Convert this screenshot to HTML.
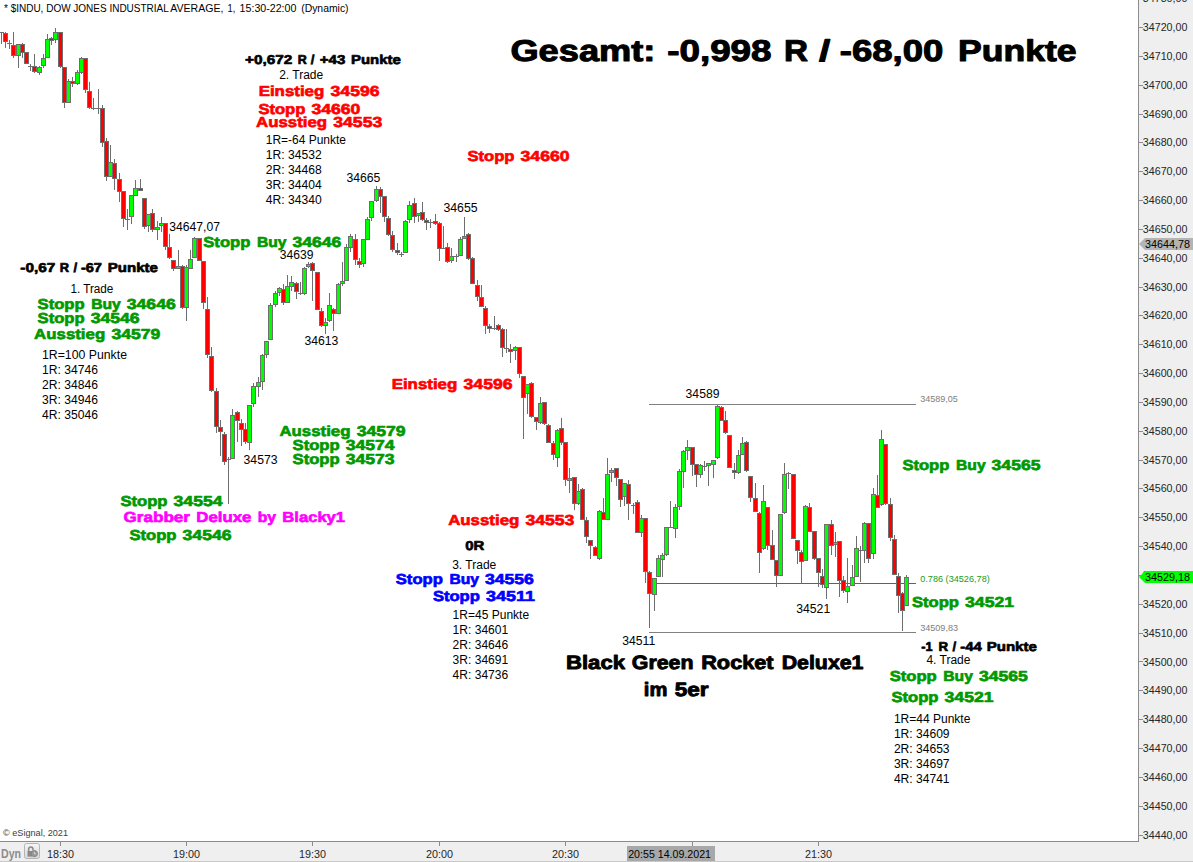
<!DOCTYPE html>
<html><head><meta charset="utf-8"><title>chart</title>
<style>html,body{margin:0;padding:0;background:#fff;overflow:hidden}svg{display:block}text{font-family:"Liberation Sans",sans-serif}.b{text-rendering:geometricPrecision}.r{font-size:12px;fill:#000}.b{font-weight:bold}.ax{font-size:11px;fill:#262626}</style></head><body>
<svg width="1193" height="862" viewBox="0 0 1193 862">
<rect x="0" y="0" width="1193" height="862" fill="#fff"/>
<rect x="1138" y="0" width="55" height="862" fill="#efefef"/>
<rect x="0" y="841" width="1193" height="21" fill="#efefef"/>
<rect x="1138" y="0" width="1" height="841" fill="#8c8c8c"/>
<rect x="0" y="841" width="1139" height="1" fill="#8c8c8c"/>
<rect x="0" y="861" width="1193" height="1" fill="#c8c8c8"/>
<g shape-rendering="crispEdges">
<rect x="649" y="404" width="267" height="1" fill="#808080"/>
<rect x="657" y="583" width="259" height="1" fill="#109a10"/>
<rect x="649" y="632" width="267" height="1" fill="#808080"/>
<rect x="1" y="32" width="1" height="12" fill="#6e6e6e"/>
<rect x="-1" y="32" width="5" height="1" fill="#6e6e6e"/>
<rect x="5" y="32" width="1" height="16" fill="#6e6e6e"/>
<rect x="3" y="33" width="5" height="9" fill="#6e6e6e"/>
<rect x="4" y="34" width="3" height="7" fill="#ff0000"/>
<rect x="9" y="40" width="1" height="9" fill="#6e6e6e"/>
<rect x="7" y="43" width="5" height="1" fill="#6e6e6e"/>
<rect x="13" y="32" width="1" height="26" fill="#6e6e6e"/>
<rect x="11" y="45" width="5" height="11" fill="#6e6e6e"/>
<rect x="12" y="46" width="3" height="9" fill="#ff0000"/>
<rect x="18" y="44" width="1" height="24" fill="#6e6e6e"/>
<rect x="16" y="44" width="5" height="12" fill="#6e6e6e"/>
<rect x="17" y="45" width="3" height="10" fill="#00ff00"/>
<rect x="22" y="43" width="1" height="15" fill="#6e6e6e"/>
<rect x="20" y="44" width="5" height="9" fill="#6e6e6e"/>
<rect x="21" y="45" width="3" height="7" fill="#ff0000"/>
<rect x="26" y="52" width="1" height="12" fill="#6e6e6e"/>
<rect x="24" y="52" width="5" height="12" fill="#6e6e6e"/>
<rect x="25" y="53" width="3" height="10" fill="#ff0000"/>
<rect x="30" y="64" width="1" height="7" fill="#6e6e6e"/>
<rect x="28" y="66" width="5" height="1" fill="#6e6e6e"/>
<rect x="34" y="54" width="1" height="19" fill="#6e6e6e"/>
<rect x="32" y="66" width="5" height="6" fill="#6e6e6e"/>
<rect x="33" y="67" width="3" height="4" fill="#ff0000"/>
<rect x="39" y="66" width="1" height="9" fill="#6e6e6e"/>
<rect x="37" y="67" width="5" height="6" fill="#6e6e6e"/>
<rect x="38" y="68" width="3" height="4" fill="#00ff00"/>
<rect x="43" y="54" width="1" height="14" fill="#6e6e6e"/>
<rect x="41" y="58" width="5" height="8" fill="#6e6e6e"/>
<rect x="42" y="59" width="3" height="6" fill="#00ff00"/>
<rect x="47" y="34" width="1" height="24" fill="#6e6e6e"/>
<rect x="45" y="39" width="5" height="19" fill="#6e6e6e"/>
<rect x="46" y="40" width="3" height="17" fill="#00ff00"/>
<rect x="51" y="37" width="1" height="8" fill="#6e6e6e"/>
<rect x="49" y="38" width="5" height="3" fill="#6e6e6e"/>
<rect x="50" y="39" width="3" height="1" fill="#ff0000"/>
<rect x="55" y="28" width="1" height="15" fill="#6e6e6e"/>
<rect x="53" y="32" width="5" height="8" fill="#6e6e6e"/>
<rect x="54" y="33" width="3" height="6" fill="#00ff00"/>
<rect x="60" y="32" width="1" height="36" fill="#6e6e6e"/>
<rect x="58" y="32" width="5" height="35" fill="#6e6e6e"/>
<rect x="59" y="33" width="3" height="33" fill="#ff0000"/>
<rect x="64" y="67" width="1" height="41" fill="#6e6e6e"/>
<rect x="62" y="67" width="5" height="36" fill="#6e6e6e"/>
<rect x="63" y="68" width="3" height="34" fill="#ff0000"/>
<rect x="68" y="79" width="1" height="24" fill="#6e6e6e"/>
<rect x="66" y="81" width="5" height="22" fill="#6e6e6e"/>
<rect x="67" y="82" width="3" height="20" fill="#00ff00"/>
<rect x="72" y="77" width="1" height="10" fill="#6e6e6e"/>
<rect x="70" y="81" width="5" height="3" fill="#6e6e6e"/>
<rect x="71" y="82" width="3" height="1" fill="#ff0000"/>
<rect x="77" y="70" width="1" height="15" fill="#6e6e6e"/>
<rect x="75" y="72" width="5" height="12" fill="#6e6e6e"/>
<rect x="76" y="73" width="3" height="10" fill="#00ff00"/>
<rect x="81" y="57" width="1" height="17" fill="#6e6e6e"/>
<rect x="79" y="58" width="5" height="15" fill="#6e6e6e"/>
<rect x="80" y="59" width="3" height="13" fill="#00ff00"/>
<rect x="85" y="58" width="1" height="35" fill="#6e6e6e"/>
<rect x="83" y="58" width="5" height="32" fill="#6e6e6e"/>
<rect x="84" y="59" width="3" height="30" fill="#ff0000"/>
<rect x="89" y="82" width="1" height="27" fill="#6e6e6e"/>
<rect x="87" y="91" width="5" height="17" fill="#6e6e6e"/>
<rect x="88" y="92" width="3" height="15" fill="#ff0000"/>
<rect x="93" y="98" width="1" height="12" fill="#6e6e6e"/>
<rect x="91" y="108" width="5" height="1" fill="#6e6e6e"/>
<rect x="98" y="89" width="1" height="25" fill="#6e6e6e"/>
<rect x="96" y="108" width="5" height="1" fill="#6e6e6e"/>
<rect x="102" y="105" width="1" height="42" fill="#6e6e6e"/>
<rect x="100" y="108" width="5" height="35" fill="#6e6e6e"/>
<rect x="101" y="109" width="3" height="33" fill="#ff0000"/>
<rect x="106" y="138" width="1" height="43" fill="#6e6e6e"/>
<rect x="104" y="141" width="5" height="36" fill="#6e6e6e"/>
<rect x="105" y="142" width="3" height="34" fill="#ff0000"/>
<rect x="110" y="145" width="1" height="32" fill="#6e6e6e"/>
<rect x="108" y="162" width="5" height="15" fill="#6e6e6e"/>
<rect x="109" y="163" width="3" height="13" fill="#00ff00"/>
<rect x="114" y="159" width="1" height="31" fill="#6e6e6e"/>
<rect x="112" y="163" width="5" height="16" fill="#6e6e6e"/>
<rect x="113" y="164" width="3" height="14" fill="#ff0000"/>
<rect x="119" y="173" width="1" height="29" fill="#6e6e6e"/>
<rect x="117" y="179" width="5" height="13" fill="#6e6e6e"/>
<rect x="118" y="180" width="3" height="11" fill="#ff0000"/>
<rect x="123" y="191" width="1" height="36" fill="#6e6e6e"/>
<rect x="121" y="191" width="5" height="28" fill="#6e6e6e"/>
<rect x="122" y="192" width="3" height="26" fill="#ff0000"/>
<rect x="127" y="209" width="1" height="21" fill="#6e6e6e"/>
<rect x="125" y="219" width="5" height="1" fill="#6e6e6e"/>
<rect x="131" y="195" width="1" height="29" fill="#6e6e6e"/>
<rect x="129" y="195" width="5" height="22" fill="#6e6e6e"/>
<rect x="130" y="196" width="3" height="20" fill="#00ff00"/>
<rect x="135" y="180" width="1" height="16" fill="#6e6e6e"/>
<rect x="133" y="188" width="5" height="8" fill="#6e6e6e"/>
<rect x="134" y="189" width="3" height="6" fill="#00ff00"/>
<rect x="140" y="179" width="1" height="12" fill="#6e6e6e"/>
<rect x="138" y="188" width="5" height="3" fill="#6e6e6e"/>
<rect x="139" y="189" width="3" height="1" fill="#ff0000"/>
<rect x="144" y="198" width="1" height="31" fill="#6e6e6e"/>
<rect x="142" y="198" width="5" height="29" fill="#6e6e6e"/>
<rect x="143" y="199" width="3" height="27" fill="#ff0000"/>
<rect x="148" y="214" width="1" height="18" fill="#6e6e6e"/>
<rect x="146" y="214" width="5" height="12" fill="#6e6e6e"/>
<rect x="147" y="215" width="3" height="10" fill="#00ff00"/>
<rect x="152" y="209" width="1" height="23" fill="#6e6e6e"/>
<rect x="150" y="213" width="5" height="17" fill="#6e6e6e"/>
<rect x="151" y="214" width="3" height="15" fill="#ff0000"/>
<rect x="157" y="221" width="1" height="19" fill="#6e6e6e"/>
<rect x="155" y="227" width="5" height="3" fill="#6e6e6e"/>
<rect x="156" y="228" width="3" height="1" fill="#00ff00"/>
<rect x="161" y="217" width="1" height="15" fill="#6e6e6e"/>
<rect x="159" y="223" width="5" height="3" fill="#6e6e6e"/>
<rect x="160" y="224" width="3" height="1" fill="#00ff00"/>
<rect x="165" y="223" width="1" height="27" fill="#6e6e6e"/>
<rect x="163" y="223" width="5" height="24" fill="#6e6e6e"/>
<rect x="164" y="224" width="3" height="22" fill="#ff0000"/>
<rect x="169" y="234" width="1" height="25" fill="#6e6e6e"/>
<rect x="167" y="247" width="5" height="11" fill="#6e6e6e"/>
<rect x="168" y="248" width="3" height="9" fill="#ff0000"/>
<rect x="173" y="260" width="1" height="11" fill="#6e6e6e"/>
<rect x="171" y="260" width="5" height="9" fill="#6e6e6e"/>
<rect x="172" y="261" width="3" height="7" fill="#ff0000"/>
<rect x="178" y="250" width="1" height="18" fill="#6e6e6e"/>
<rect x="176" y="266" width="5" height="3" fill="#6e6e6e"/>
<rect x="177" y="267" width="3" height="1" fill="#00ff00"/>
<rect x="182" y="265" width="1" height="44" fill="#6e6e6e"/>
<rect x="180" y="266" width="5" height="42" fill="#6e6e6e"/>
<rect x="181" y="267" width="3" height="40" fill="#ff0000"/>
<rect x="186" y="265" width="1" height="56" fill="#6e6e6e"/>
<rect x="184" y="267" width="5" height="41" fill="#6e6e6e"/>
<rect x="185" y="268" width="3" height="39" fill="#00ff00"/>
<rect x="190" y="250" width="1" height="19" fill="#6e6e6e"/>
<rect x="188" y="259" width="5" height="10" fill="#6e6e6e"/>
<rect x="189" y="260" width="3" height="8" fill="#00ff00"/>
<rect x="194" y="237" width="1" height="21" fill="#6e6e6e"/>
<rect x="192" y="238" width="5" height="20" fill="#6e6e6e"/>
<rect x="193" y="239" width="3" height="18" fill="#00ff00"/>
<rect x="199" y="238" width="1" height="23" fill="#6e6e6e"/>
<rect x="197" y="238" width="5" height="23" fill="#6e6e6e"/>
<rect x="198" y="239" width="3" height="21" fill="#ff0000"/>
<rect x="203" y="261" width="1" height="48" fill="#6e6e6e"/>
<rect x="201" y="261" width="5" height="42" fill="#6e6e6e"/>
<rect x="202" y="262" width="3" height="40" fill="#ff0000"/>
<rect x="207" y="297" width="1" height="61" fill="#6e6e6e"/>
<rect x="205" y="309" width="5" height="46" fill="#6e6e6e"/>
<rect x="206" y="310" width="3" height="44" fill="#ff0000"/>
<rect x="211" y="347" width="1" height="45" fill="#6e6e6e"/>
<rect x="209" y="356" width="5" height="35" fill="#6e6e6e"/>
<rect x="210" y="357" width="3" height="33" fill="#ff0000"/>
<rect x="216" y="388" width="1" height="45" fill="#6e6e6e"/>
<rect x="214" y="391" width="5" height="36" fill="#6e6e6e"/>
<rect x="215" y="392" width="3" height="34" fill="#ff0000"/>
<rect x="220" y="420" width="1" height="36" fill="#6e6e6e"/>
<rect x="218" y="427" width="5" height="5" fill="#6e6e6e"/>
<rect x="219" y="428" width="3" height="3" fill="#ff0000"/>
<rect x="224" y="432" width="1" height="33" fill="#6e6e6e"/>
<rect x="222" y="434" width="5" height="28" fill="#6e6e6e"/>
<rect x="223" y="435" width="3" height="26" fill="#ff0000"/>
<rect x="228" y="457" width="1" height="47" fill="#6e6e6e"/>
<rect x="226" y="459" width="5" height="1" fill="#6e6e6e"/>
<rect x="232" y="409" width="1" height="50" fill="#6e6e6e"/>
<rect x="230" y="415" width="5" height="44" fill="#6e6e6e"/>
<rect x="231" y="416" width="3" height="42" fill="#00ff00"/>
<rect x="237" y="411" width="1" height="31" fill="#6e6e6e"/>
<rect x="235" y="412" width="5" height="9" fill="#6e6e6e"/>
<rect x="236" y="413" width="3" height="7" fill="#ff0000"/>
<rect x="241" y="419" width="1" height="27" fill="#6e6e6e"/>
<rect x="239" y="423" width="5" height="7" fill="#6e6e6e"/>
<rect x="240" y="424" width="3" height="5" fill="#ff0000"/>
<rect x="245" y="423" width="1" height="21" fill="#6e6e6e"/>
<rect x="243" y="429" width="5" height="13" fill="#6e6e6e"/>
<rect x="244" y="430" width="3" height="11" fill="#ff0000"/>
<rect x="249" y="405" width="1" height="45" fill="#6e6e6e"/>
<rect x="247" y="405" width="5" height="38" fill="#6e6e6e"/>
<rect x="248" y="406" width="3" height="36" fill="#00ff00"/>
<rect x="253" y="383" width="1" height="24" fill="#6e6e6e"/>
<rect x="251" y="386" width="5" height="18" fill="#6e6e6e"/>
<rect x="252" y="387" width="3" height="16" fill="#00ff00"/>
<rect x="258" y="377" width="1" height="20" fill="#6e6e6e"/>
<rect x="256" y="382" width="5" height="5" fill="#6e6e6e"/>
<rect x="257" y="383" width="3" height="3" fill="#00ff00"/>
<rect x="262" y="354" width="1" height="36" fill="#6e6e6e"/>
<rect x="260" y="355" width="5" height="27" fill="#6e6e6e"/>
<rect x="261" y="356" width="3" height="25" fill="#00ff00"/>
<rect x="266" y="341" width="1" height="17" fill="#6e6e6e"/>
<rect x="264" y="341" width="5" height="14" fill="#6e6e6e"/>
<rect x="265" y="342" width="3" height="12" fill="#00ff00"/>
<rect x="270" y="303" width="1" height="37" fill="#6e6e6e"/>
<rect x="268" y="305" width="5" height="35" fill="#6e6e6e"/>
<rect x="269" y="306" width="3" height="33" fill="#00ff00"/>
<rect x="275" y="291" width="1" height="16" fill="#6e6e6e"/>
<rect x="273" y="293" width="5" height="12" fill="#6e6e6e"/>
<rect x="274" y="294" width="3" height="10" fill="#00ff00"/>
<rect x="279" y="287" width="1" height="9" fill="#6e6e6e"/>
<rect x="277" y="288" width="5" height="5" fill="#6e6e6e"/>
<rect x="278" y="289" width="3" height="3" fill="#00ff00"/>
<rect x="283" y="284" width="1" height="21" fill="#6e6e6e"/>
<rect x="281" y="289" width="5" height="14" fill="#6e6e6e"/>
<rect x="282" y="290" width="3" height="12" fill="#ff0000"/>
<rect x="287" y="275" width="1" height="28" fill="#6e6e6e"/>
<rect x="285" y="286" width="5" height="17" fill="#6e6e6e"/>
<rect x="286" y="287" width="3" height="15" fill="#00ff00"/>
<rect x="291" y="276" width="1" height="15" fill="#6e6e6e"/>
<rect x="289" y="282" width="5" height="5" fill="#6e6e6e"/>
<rect x="290" y="283" width="3" height="3" fill="#00ff00"/>
<rect x="296" y="282" width="1" height="17" fill="#6e6e6e"/>
<rect x="294" y="283" width="5" height="9" fill="#6e6e6e"/>
<rect x="295" y="284" width="3" height="7" fill="#ff0000"/>
<rect x="300" y="282" width="1" height="13" fill="#6e6e6e"/>
<rect x="298" y="293" width="5" height="1" fill="#6e6e6e"/>
<rect x="304" y="267" width="1" height="28" fill="#6e6e6e"/>
<rect x="302" y="268" width="5" height="26" fill="#6e6e6e"/>
<rect x="303" y="269" width="3" height="24" fill="#00ff00"/>
<rect x="308" y="262" width="1" height="6" fill="#6e6e6e"/>
<rect x="306" y="264" width="5" height="3" fill="#6e6e6e"/>
<rect x="307" y="265" width="3" height="1" fill="#00ff00"/>
<rect x="312" y="262" width="1" height="39" fill="#6e6e6e"/>
<rect x="310" y="263" width="5" height="8" fill="#6e6e6e"/>
<rect x="311" y="264" width="3" height="6" fill="#ff0000"/>
<rect x="317" y="272" width="1" height="38" fill="#6e6e6e"/>
<rect x="315" y="272" width="5" height="38" fill="#6e6e6e"/>
<rect x="316" y="273" width="3" height="36" fill="#ff0000"/>
<rect x="321" y="308" width="1" height="19" fill="#6e6e6e"/>
<rect x="319" y="311" width="5" height="15" fill="#6e6e6e"/>
<rect x="320" y="312" width="3" height="13" fill="#ff0000"/>
<rect x="325" y="318" width="1" height="16" fill="#6e6e6e"/>
<rect x="323" y="322" width="5" height="4" fill="#6e6e6e"/>
<rect x="324" y="323" width="3" height="2" fill="#00ff00"/>
<rect x="329" y="293" width="1" height="29" fill="#6e6e6e"/>
<rect x="327" y="305" width="5" height="16" fill="#6e6e6e"/>
<rect x="328" y="306" width="3" height="14" fill="#00ff00"/>
<rect x="333" y="308" width="1" height="23" fill="#6e6e6e"/>
<rect x="331" y="309" width="5" height="5" fill="#6e6e6e"/>
<rect x="332" y="310" width="3" height="3" fill="#ff0000"/>
<rect x="338" y="283" width="1" height="31" fill="#6e6e6e"/>
<rect x="336" y="284" width="5" height="30" fill="#6e6e6e"/>
<rect x="337" y="285" width="3" height="28" fill="#00ff00"/>
<rect x="342" y="262" width="1" height="24" fill="#6e6e6e"/>
<rect x="340" y="281" width="5" height="3" fill="#6e6e6e"/>
<rect x="341" y="282" width="3" height="1" fill="#00ff00"/>
<rect x="346" y="244" width="1" height="37" fill="#6e6e6e"/>
<rect x="344" y="247" width="5" height="34" fill="#6e6e6e"/>
<rect x="345" y="248" width="3" height="32" fill="#00ff00"/>
<rect x="350" y="234" width="1" height="18" fill="#6e6e6e"/>
<rect x="348" y="236" width="5" height="12" fill="#6e6e6e"/>
<rect x="349" y="237" width="3" height="10" fill="#00ff00"/>
<rect x="355" y="234" width="1" height="31" fill="#6e6e6e"/>
<rect x="353" y="239" width="5" height="21" fill="#6e6e6e"/>
<rect x="354" y="240" width="3" height="19" fill="#ff0000"/>
<rect x="359" y="258" width="1" height="10" fill="#6e6e6e"/>
<rect x="357" y="261" width="5" height="4" fill="#6e6e6e"/>
<rect x="358" y="262" width="3" height="2" fill="#ff0000"/>
<rect x="363" y="239" width="1" height="28" fill="#6e6e6e"/>
<rect x="361" y="239" width="5" height="25" fill="#6e6e6e"/>
<rect x="362" y="240" width="3" height="23" fill="#00ff00"/>
<rect x="367" y="217" width="1" height="23" fill="#6e6e6e"/>
<rect x="365" y="219" width="5" height="21" fill="#6e6e6e"/>
<rect x="366" y="220" width="3" height="19" fill="#00ff00"/>
<rect x="371" y="201" width="1" height="20" fill="#6e6e6e"/>
<rect x="369" y="201" width="5" height="17" fill="#6e6e6e"/>
<rect x="370" y="202" width="3" height="15" fill="#00ff00"/>
<rect x="376" y="186" width="1" height="16" fill="#6e6e6e"/>
<rect x="374" y="189" width="5" height="12" fill="#6e6e6e"/>
<rect x="375" y="190" width="3" height="10" fill="#00ff00"/>
<rect x="380" y="187" width="1" height="26" fill="#6e6e6e"/>
<rect x="378" y="189" width="5" height="8" fill="#6e6e6e"/>
<rect x="379" y="190" width="3" height="6" fill="#ff0000"/>
<rect x="384" y="196" width="1" height="26" fill="#6e6e6e"/>
<rect x="382" y="196" width="5" height="21" fill="#6e6e6e"/>
<rect x="383" y="197" width="3" height="19" fill="#ff0000"/>
<rect x="388" y="216" width="1" height="20" fill="#6e6e6e"/>
<rect x="386" y="218" width="5" height="17" fill="#6e6e6e"/>
<rect x="387" y="219" width="3" height="15" fill="#ff0000"/>
<rect x="392" y="231" width="1" height="21" fill="#6e6e6e"/>
<rect x="390" y="235" width="5" height="15" fill="#6e6e6e"/>
<rect x="391" y="236" width="3" height="13" fill="#ff0000"/>
<rect x="397" y="243" width="1" height="12" fill="#6e6e6e"/>
<rect x="395" y="250" width="5" height="3" fill="#6e6e6e"/>
<rect x="396" y="251" width="3" height="1" fill="#ff0000"/>
<rect x="401" y="252" width="1" height="5" fill="#6e6e6e"/>
<rect x="399" y="254" width="5" height="1" fill="#6e6e6e"/>
<rect x="405" y="220" width="1" height="33" fill="#6e6e6e"/>
<rect x="403" y="221" width="5" height="32" fill="#6e6e6e"/>
<rect x="404" y="222" width="3" height="30" fill="#00ff00"/>
<rect x="409" y="201" width="1" height="22" fill="#6e6e6e"/>
<rect x="407" y="205" width="5" height="15" fill="#6e6e6e"/>
<rect x="408" y="206" width="3" height="13" fill="#00ff00"/>
<rect x="414" y="198" width="1" height="25" fill="#6e6e6e"/>
<rect x="412" y="203" width="5" height="14" fill="#6e6e6e"/>
<rect x="413" y="204" width="3" height="12" fill="#ff0000"/>
<rect x="418" y="213" width="1" height="9" fill="#6e6e6e"/>
<rect x="416" y="213" width="5" height="3" fill="#6e6e6e"/>
<rect x="417" y="214" width="3" height="1" fill="#00ff00"/>
<rect x="422" y="202" width="1" height="19" fill="#6e6e6e"/>
<rect x="420" y="212" width="5" height="8" fill="#6e6e6e"/>
<rect x="421" y="213" width="3" height="6" fill="#ff0000"/>
<rect x="426" y="218" width="1" height="12" fill="#6e6e6e"/>
<rect x="424" y="220" width="5" height="3" fill="#6e6e6e"/>
<rect x="425" y="221" width="3" height="1" fill="#ff0000"/>
<rect x="430" y="219" width="1" height="9" fill="#6e6e6e"/>
<rect x="428" y="222" width="5" height="1" fill="#6e6e6e"/>
<rect x="435" y="214" width="1" height="11" fill="#6e6e6e"/>
<rect x="433" y="221" width="5" height="3" fill="#6e6e6e"/>
<rect x="434" y="222" width="3" height="1" fill="#ff0000"/>
<rect x="439" y="222" width="1" height="39" fill="#6e6e6e"/>
<rect x="437" y="223" width="5" height="26" fill="#6e6e6e"/>
<rect x="438" y="224" width="3" height="24" fill="#ff0000"/>
<rect x="443" y="226" width="1" height="23" fill="#6e6e6e"/>
<rect x="441" y="248" width="5" height="1" fill="#6e6e6e"/>
<rect x="447" y="243" width="1" height="20" fill="#6e6e6e"/>
<rect x="445" y="247" width="5" height="15" fill="#6e6e6e"/>
<rect x="446" y="248" width="3" height="13" fill="#ff0000"/>
<rect x="451" y="248" width="1" height="15" fill="#6e6e6e"/>
<rect x="449" y="256" width="5" height="5" fill="#6e6e6e"/>
<rect x="450" y="257" width="3" height="3" fill="#00ff00"/>
<rect x="456" y="254" width="1" height="8" fill="#6e6e6e"/>
<rect x="454" y="256" width="5" height="1" fill="#6e6e6e"/>
<rect x="460" y="237" width="1" height="19" fill="#6e6e6e"/>
<rect x="458" y="239" width="5" height="17" fill="#6e6e6e"/>
<rect x="459" y="240" width="3" height="15" fill="#00ff00"/>
<rect x="464" y="217" width="1" height="22" fill="#6e6e6e"/>
<rect x="462" y="236" width="5" height="3" fill="#6e6e6e"/>
<rect x="463" y="237" width="3" height="1" fill="#00ff00"/>
<rect x="468" y="233" width="1" height="27" fill="#6e6e6e"/>
<rect x="466" y="234" width="5" height="25" fill="#6e6e6e"/>
<rect x="467" y="235" width="3" height="23" fill="#ff0000"/>
<rect x="472" y="257" width="1" height="27" fill="#6e6e6e"/>
<rect x="470" y="258" width="5" height="26" fill="#6e6e6e"/>
<rect x="471" y="259" width="3" height="24" fill="#ff0000"/>
<rect x="477" y="280" width="1" height="21" fill="#6e6e6e"/>
<rect x="475" y="285" width="5" height="12" fill="#6e6e6e"/>
<rect x="476" y="286" width="3" height="10" fill="#ff0000"/>
<rect x="481" y="285" width="1" height="22" fill="#6e6e6e"/>
<rect x="479" y="297" width="5" height="10" fill="#6e6e6e"/>
<rect x="480" y="298" width="3" height="8" fill="#ff0000"/>
<rect x="485" y="306" width="1" height="28" fill="#6e6e6e"/>
<rect x="483" y="308" width="5" height="18" fill="#6e6e6e"/>
<rect x="484" y="309" width="3" height="16" fill="#ff0000"/>
<rect x="489" y="324" width="1" height="9" fill="#6e6e6e"/>
<rect x="487" y="326" width="5" height="3" fill="#6e6e6e"/>
<rect x="488" y="327" width="3" height="1" fill="#ff0000"/>
<rect x="494" y="316" width="1" height="14" fill="#6e6e6e"/>
<rect x="492" y="328" width="5" height="1" fill="#6e6e6e"/>
<rect x="498" y="324" width="1" height="7" fill="#6e6e6e"/>
<rect x="496" y="325" width="5" height="5" fill="#6e6e6e"/>
<rect x="497" y="326" width="3" height="3" fill="#ff0000"/>
<rect x="502" y="328" width="1" height="29" fill="#6e6e6e"/>
<rect x="500" y="329" width="5" height="19" fill="#6e6e6e"/>
<rect x="501" y="330" width="3" height="17" fill="#ff0000"/>
<rect x="506" y="329" width="1" height="24" fill="#6e6e6e"/>
<rect x="504" y="348" width="5" height="1" fill="#6e6e6e"/>
<rect x="510" y="344" width="1" height="19" fill="#6e6e6e"/>
<rect x="508" y="349" width="5" height="3" fill="#6e6e6e"/>
<rect x="509" y="350" width="3" height="1" fill="#ff0000"/>
<rect x="515" y="346" width="1" height="14" fill="#6e6e6e"/>
<rect x="513" y="347" width="5" height="4" fill="#6e6e6e"/>
<rect x="514" y="348" width="3" height="2" fill="#00ff00"/>
<rect x="519" y="347" width="1" height="31" fill="#6e6e6e"/>
<rect x="517" y="347" width="5" height="27" fill="#6e6e6e"/>
<rect x="518" y="348" width="3" height="25" fill="#ff0000"/>
<rect x="523" y="376" width="1" height="63" fill="#6e6e6e"/>
<rect x="521" y="376" width="5" height="22" fill="#6e6e6e"/>
<rect x="522" y="377" width="3" height="20" fill="#ff0000"/>
<rect x="527" y="384" width="1" height="30" fill="#6e6e6e"/>
<rect x="525" y="384" width="5" height="10" fill="#6e6e6e"/>
<rect x="526" y="385" width="3" height="8" fill="#00ff00"/>
<rect x="531" y="382" width="1" height="36" fill="#6e6e6e"/>
<rect x="529" y="383" width="5" height="34" fill="#6e6e6e"/>
<rect x="530" y="384" width="3" height="32" fill="#ff0000"/>
<rect x="536" y="417" width="1" height="13" fill="#6e6e6e"/>
<rect x="534" y="417" width="5" height="5" fill="#6e6e6e"/>
<rect x="535" y="418" width="3" height="3" fill="#ff0000"/>
<rect x="540" y="397" width="1" height="27" fill="#6e6e6e"/>
<rect x="538" y="403" width="5" height="20" fill="#6e6e6e"/>
<rect x="539" y="404" width="3" height="18" fill="#00ff00"/>
<rect x="544" y="402" width="1" height="23" fill="#6e6e6e"/>
<rect x="542" y="402" width="5" height="22" fill="#6e6e6e"/>
<rect x="543" y="403" width="3" height="20" fill="#ff0000"/>
<rect x="548" y="424" width="1" height="19" fill="#6e6e6e"/>
<rect x="546" y="425" width="5" height="18" fill="#6e6e6e"/>
<rect x="547" y="426" width="3" height="16" fill="#ff0000"/>
<rect x="553" y="441" width="1" height="19" fill="#6e6e6e"/>
<rect x="551" y="443" width="5" height="12" fill="#6e6e6e"/>
<rect x="552" y="444" width="3" height="10" fill="#ff0000"/>
<rect x="557" y="429" width="1" height="38" fill="#6e6e6e"/>
<rect x="555" y="430" width="5" height="28" fill="#6e6e6e"/>
<rect x="556" y="431" width="3" height="26" fill="#00ff00"/>
<rect x="561" y="418" width="1" height="27" fill="#6e6e6e"/>
<rect x="559" y="428" width="5" height="15" fill="#6e6e6e"/>
<rect x="560" y="429" width="3" height="13" fill="#ff0000"/>
<rect x="565" y="442" width="1" height="44" fill="#6e6e6e"/>
<rect x="563" y="442" width="5" height="38" fill="#6e6e6e"/>
<rect x="564" y="443" width="3" height="36" fill="#ff0000"/>
<rect x="569" y="468" width="1" height="25" fill="#6e6e6e"/>
<rect x="567" y="478" width="5" height="3" fill="#6e6e6e"/>
<rect x="568" y="479" width="3" height="1" fill="#00ff00"/>
<rect x="574" y="477" width="1" height="33" fill="#6e6e6e"/>
<rect x="572" y="477" width="5" height="27" fill="#6e6e6e"/>
<rect x="573" y="478" width="3" height="25" fill="#ff0000"/>
<rect x="578" y="484" width="1" height="21" fill="#6e6e6e"/>
<rect x="576" y="491" width="5" height="13" fill="#6e6e6e"/>
<rect x="577" y="492" width="3" height="11" fill="#00ff00"/>
<rect x="582" y="488" width="1" height="32" fill="#6e6e6e"/>
<rect x="580" y="489" width="5" height="31" fill="#6e6e6e"/>
<rect x="581" y="490" width="3" height="29" fill="#ff0000"/>
<rect x="586" y="517" width="1" height="26" fill="#6e6e6e"/>
<rect x="584" y="520" width="5" height="17" fill="#6e6e6e"/>
<rect x="585" y="521" width="3" height="15" fill="#ff0000"/>
<rect x="590" y="540" width="1" height="19" fill="#6e6e6e"/>
<rect x="588" y="540" width="5" height="6" fill="#6e6e6e"/>
<rect x="589" y="541" width="3" height="4" fill="#ff0000"/>
<rect x="595" y="546" width="1" height="10" fill="#6e6e6e"/>
<rect x="593" y="547" width="5" height="9" fill="#6e6e6e"/>
<rect x="594" y="548" width="3" height="7" fill="#ff0000"/>
<rect x="599" y="510" width="1" height="50" fill="#6e6e6e"/>
<rect x="597" y="511" width="5" height="48" fill="#6e6e6e"/>
<rect x="598" y="512" width="3" height="46" fill="#00ff00"/>
<rect x="603" y="498" width="1" height="22" fill="#6e6e6e"/>
<rect x="601" y="512" width="5" height="8" fill="#6e6e6e"/>
<rect x="602" y="513" width="3" height="6" fill="#ff0000"/>
<rect x="607" y="458" width="1" height="62" fill="#6e6e6e"/>
<rect x="605" y="474" width="5" height="46" fill="#6e6e6e"/>
<rect x="606" y="475" width="3" height="44" fill="#00ff00"/>
<rect x="611" y="468" width="1" height="14" fill="#6e6e6e"/>
<rect x="609" y="470" width="5" height="3" fill="#6e6e6e"/>
<rect x="610" y="471" width="3" height="1" fill="#00ff00"/>
<rect x="616" y="468" width="1" height="18" fill="#6e6e6e"/>
<rect x="614" y="468" width="5" height="10" fill="#6e6e6e"/>
<rect x="615" y="469" width="3" height="8" fill="#ff0000"/>
<rect x="620" y="479" width="1" height="28" fill="#6e6e6e"/>
<rect x="618" y="479" width="5" height="21" fill="#6e6e6e"/>
<rect x="619" y="480" width="3" height="19" fill="#ff0000"/>
<rect x="624" y="483" width="1" height="23" fill="#6e6e6e"/>
<rect x="622" y="483" width="5" height="14" fill="#6e6e6e"/>
<rect x="623" y="484" width="3" height="12" fill="#00ff00"/>
<rect x="628" y="480" width="1" height="40" fill="#6e6e6e"/>
<rect x="626" y="484" width="5" height="20" fill="#6e6e6e"/>
<rect x="627" y="485" width="3" height="18" fill="#ff0000"/>
<rect x="633" y="503" width="1" height="11" fill="#6e6e6e"/>
<rect x="631" y="505" width="5" height="1" fill="#6e6e6e"/>
<rect x="637" y="500" width="1" height="33" fill="#6e6e6e"/>
<rect x="635" y="502" width="5" height="31" fill="#6e6e6e"/>
<rect x="636" y="503" width="3" height="29" fill="#ff0000"/>
<rect x="641" y="515" width="1" height="22" fill="#6e6e6e"/>
<rect x="639" y="518" width="5" height="15" fill="#6e6e6e"/>
<rect x="640" y="519" width="3" height="13" fill="#00ff00"/>
<rect x="645" y="518" width="1" height="65" fill="#6e6e6e"/>
<rect x="643" y="518" width="5" height="54" fill="#6e6e6e"/>
<rect x="644" y="519" width="3" height="52" fill="#ff0000"/>
<rect x="649" y="571" width="1" height="57" fill="#6e6e6e"/>
<rect x="647" y="572" width="5" height="22" fill="#6e6e6e"/>
<rect x="648" y="573" width="3" height="20" fill="#ff0000"/>
<rect x="654" y="578" width="1" height="33" fill="#6e6e6e"/>
<rect x="652" y="578" width="5" height="17" fill="#6e6e6e"/>
<rect x="653" y="579" width="3" height="15" fill="#00ff00"/>
<rect x="658" y="555" width="1" height="22" fill="#6e6e6e"/>
<rect x="656" y="558" width="5" height="19" fill="#6e6e6e"/>
<rect x="657" y="559" width="3" height="17" fill="#00ff00"/>
<rect x="662" y="553" width="1" height="24" fill="#6e6e6e"/>
<rect x="660" y="555" width="5" height="5" fill="#6e6e6e"/>
<rect x="661" y="556" width="3" height="3" fill="#00ff00"/>
<rect x="666" y="527" width="1" height="29" fill="#6e6e6e"/>
<rect x="664" y="527" width="5" height="28" fill="#6e6e6e"/>
<rect x="665" y="528" width="3" height="26" fill="#00ff00"/>
<rect x="670" y="501" width="1" height="27" fill="#6e6e6e"/>
<rect x="668" y="527" width="5" height="1" fill="#6e6e6e"/>
<rect x="675" y="504" width="1" height="34" fill="#6e6e6e"/>
<rect x="673" y="507" width="5" height="22" fill="#6e6e6e"/>
<rect x="674" y="508" width="3" height="20" fill="#00ff00"/>
<rect x="679" y="469" width="1" height="41" fill="#6e6e6e"/>
<rect x="677" y="471" width="5" height="36" fill="#6e6e6e"/>
<rect x="678" y="472" width="3" height="34" fill="#00ff00"/>
<rect x="683" y="450" width="1" height="38" fill="#6e6e6e"/>
<rect x="681" y="451" width="5" height="21" fill="#6e6e6e"/>
<rect x="682" y="452" width="3" height="19" fill="#00ff00"/>
<rect x="687" y="440" width="1" height="20" fill="#6e6e6e"/>
<rect x="685" y="447" width="5" height="4" fill="#6e6e6e"/>
<rect x="686" y="448" width="3" height="2" fill="#00ff00"/>
<rect x="692" y="447" width="1" height="29" fill="#6e6e6e"/>
<rect x="690" y="447" width="5" height="18" fill="#6e6e6e"/>
<rect x="691" y="448" width="3" height="16" fill="#ff0000"/>
<rect x="696" y="464" width="1" height="23" fill="#6e6e6e"/>
<rect x="694" y="464" width="5" height="11" fill="#6e6e6e"/>
<rect x="695" y="465" width="3" height="9" fill="#ff0000"/>
<rect x="700" y="464" width="1" height="14" fill="#6e6e6e"/>
<rect x="698" y="465" width="5" height="10" fill="#6e6e6e"/>
<rect x="699" y="466" width="3" height="8" fill="#00ff00"/>
<rect x="704" y="461" width="1" height="10" fill="#6e6e6e"/>
<rect x="702" y="466" width="5" height="1" fill="#6e6e6e"/>
<rect x="708" y="463" width="1" height="23" fill="#6e6e6e"/>
<rect x="706" y="463" width="5" height="3" fill="#6e6e6e"/>
<rect x="707" y="464" width="3" height="1" fill="#00ff00"/>
<rect x="713" y="460" width="1" height="18" fill="#6e6e6e"/>
<rect x="711" y="460" width="5" height="5" fill="#6e6e6e"/>
<rect x="712" y="461" width="3" height="3" fill="#00ff00"/>
<rect x="717" y="405" width="1" height="54" fill="#6e6e6e"/>
<rect x="715" y="406" width="5" height="52" fill="#6e6e6e"/>
<rect x="716" y="407" width="3" height="50" fill="#00ff00"/>
<rect x="721" y="406" width="1" height="15" fill="#6e6e6e"/>
<rect x="719" y="407" width="5" height="14" fill="#6e6e6e"/>
<rect x="720" y="408" width="3" height="12" fill="#ff0000"/>
<rect x="725" y="411" width="1" height="23" fill="#6e6e6e"/>
<rect x="723" y="420" width="5" height="13" fill="#6e6e6e"/>
<rect x="724" y="421" width="3" height="11" fill="#ff0000"/>
<rect x="729" y="435" width="1" height="33" fill="#6e6e6e"/>
<rect x="727" y="435" width="5" height="33" fill="#6e6e6e"/>
<rect x="728" y="436" width="3" height="31" fill="#ff0000"/>
<rect x="734" y="463" width="1" height="16" fill="#6e6e6e"/>
<rect x="732" y="470" width="5" height="3" fill="#6e6e6e"/>
<rect x="733" y="471" width="3" height="1" fill="#ff0000"/>
<rect x="738" y="450" width="1" height="24" fill="#6e6e6e"/>
<rect x="736" y="455" width="5" height="18" fill="#6e6e6e"/>
<rect x="737" y="456" width="3" height="16" fill="#00ff00"/>
<rect x="742" y="437" width="1" height="18" fill="#6e6e6e"/>
<rect x="740" y="443" width="5" height="12" fill="#6e6e6e"/>
<rect x="741" y="444" width="3" height="10" fill="#00ff00"/>
<rect x="746" y="441" width="1" height="31" fill="#6e6e6e"/>
<rect x="744" y="442" width="5" height="29" fill="#6e6e6e"/>
<rect x="745" y="443" width="3" height="27" fill="#ff0000"/>
<rect x="750" y="476" width="1" height="26" fill="#6e6e6e"/>
<rect x="748" y="476" width="5" height="22" fill="#6e6e6e"/>
<rect x="749" y="477" width="3" height="20" fill="#ff0000"/>
<rect x="755" y="483" width="1" height="29" fill="#6e6e6e"/>
<rect x="753" y="498" width="5" height="14" fill="#6e6e6e"/>
<rect x="754" y="499" width="3" height="12" fill="#ff0000"/>
<rect x="759" y="512" width="1" height="61" fill="#6e6e6e"/>
<rect x="757" y="513" width="5" height="40" fill="#6e6e6e"/>
<rect x="758" y="514" width="3" height="38" fill="#ff0000"/>
<rect x="763" y="485" width="1" height="65" fill="#6e6e6e"/>
<rect x="761" y="501" width="5" height="48" fill="#6e6e6e"/>
<rect x="762" y="502" width="3" height="46" fill="#00ff00"/>
<rect x="767" y="507" width="1" height="43" fill="#6e6e6e"/>
<rect x="765" y="507" width="5" height="39" fill="#6e6e6e"/>
<rect x="766" y="508" width="3" height="37" fill="#ff0000"/>
<rect x="772" y="530" width="1" height="30" fill="#6e6e6e"/>
<rect x="770" y="545" width="5" height="15" fill="#6e6e6e"/>
<rect x="771" y="546" width="3" height="13" fill="#ff0000"/>
<rect x="776" y="560" width="1" height="27" fill="#6e6e6e"/>
<rect x="774" y="560" width="5" height="16" fill="#6e6e6e"/>
<rect x="775" y="561" width="3" height="14" fill="#ff0000"/>
<rect x="780" y="514" width="1" height="62" fill="#6e6e6e"/>
<rect x="778" y="514" width="5" height="62" fill="#6e6e6e"/>
<rect x="779" y="515" width="3" height="60" fill="#00ff00"/>
<rect x="784" y="463" width="1" height="51" fill="#6e6e6e"/>
<rect x="782" y="474" width="5" height="39" fill="#6e6e6e"/>
<rect x="783" y="475" width="3" height="37" fill="#00ff00"/>
<rect x="788" y="472" width="1" height="17" fill="#6e6e6e"/>
<rect x="786" y="473" width="5" height="1" fill="#6e6e6e"/>
<rect x="793" y="474" width="1" height="65" fill="#6e6e6e"/>
<rect x="791" y="474" width="5" height="65" fill="#6e6e6e"/>
<rect x="792" y="475" width="3" height="63" fill="#ff0000"/>
<rect x="797" y="540" width="1" height="24" fill="#6e6e6e"/>
<rect x="795" y="540" width="5" height="11" fill="#6e6e6e"/>
<rect x="796" y="541" width="3" height="9" fill="#ff0000"/>
<rect x="801" y="550" width="1" height="34" fill="#6e6e6e"/>
<rect x="799" y="552" width="5" height="10" fill="#6e6e6e"/>
<rect x="800" y="553" width="3" height="8" fill="#ff0000"/>
<rect x="805" y="505" width="1" height="56" fill="#6e6e6e"/>
<rect x="803" y="506" width="5" height="55" fill="#6e6e6e"/>
<rect x="804" y="507" width="3" height="53" fill="#00ff00"/>
<rect x="809" y="503" width="1" height="29" fill="#6e6e6e"/>
<rect x="807" y="507" width="5" height="25" fill="#6e6e6e"/>
<rect x="808" y="508" width="3" height="23" fill="#ff0000"/>
<rect x="814" y="531" width="1" height="29" fill="#6e6e6e"/>
<rect x="812" y="531" width="5" height="28" fill="#6e6e6e"/>
<rect x="813" y="532" width="3" height="26" fill="#ff0000"/>
<rect x="818" y="558" width="1" height="29" fill="#6e6e6e"/>
<rect x="816" y="558" width="5" height="15" fill="#6e6e6e"/>
<rect x="817" y="559" width="3" height="13" fill="#ff0000"/>
<rect x="822" y="569" width="1" height="19" fill="#6e6e6e"/>
<rect x="820" y="576" width="5" height="9" fill="#6e6e6e"/>
<rect x="821" y="577" width="3" height="7" fill="#ff0000"/>
<rect x="826" y="524" width="1" height="75" fill="#6e6e6e"/>
<rect x="824" y="524" width="5" height="64" fill="#6e6e6e"/>
<rect x="825" y="525" width="3" height="62" fill="#00ff00"/>
<rect x="831" y="520" width="1" height="35" fill="#6e6e6e"/>
<rect x="829" y="524" width="5" height="22" fill="#6e6e6e"/>
<rect x="830" y="525" width="3" height="20" fill="#ff0000"/>
<rect x="835" y="532" width="1" height="25" fill="#6e6e6e"/>
<rect x="833" y="542" width="5" height="3" fill="#6e6e6e"/>
<rect x="834" y="543" width="3" height="1" fill="#00ff00"/>
<rect x="839" y="541" width="1" height="56" fill="#6e6e6e"/>
<rect x="837" y="541" width="5" height="40" fill="#6e6e6e"/>
<rect x="838" y="542" width="3" height="38" fill="#ff0000"/>
<rect x="843" y="576" width="1" height="17" fill="#6e6e6e"/>
<rect x="841" y="580" width="5" height="11" fill="#6e6e6e"/>
<rect x="842" y="581" width="3" height="9" fill="#ff0000"/>
<rect x="847" y="558" width="1" height="45" fill="#6e6e6e"/>
<rect x="845" y="586" width="5" height="6" fill="#6e6e6e"/>
<rect x="846" y="587" width="3" height="4" fill="#00ff00"/>
<rect x="852" y="565" width="1" height="21" fill="#6e6e6e"/>
<rect x="850" y="577" width="5" height="9" fill="#6e6e6e"/>
<rect x="851" y="578" width="3" height="7" fill="#00ff00"/>
<rect x="856" y="536" width="1" height="41" fill="#6e6e6e"/>
<rect x="854" y="548" width="5" height="29" fill="#6e6e6e"/>
<rect x="855" y="549" width="3" height="27" fill="#00ff00"/>
<rect x="860" y="546" width="1" height="36" fill="#6e6e6e"/>
<rect x="858" y="550" width="5" height="1" fill="#6e6e6e"/>
<rect x="864" y="522" width="1" height="41" fill="#6e6e6e"/>
<rect x="862" y="523" width="5" height="28" fill="#6e6e6e"/>
<rect x="863" y="524" width="3" height="26" fill="#00ff00"/>
<rect x="868" y="523" width="1" height="40" fill="#6e6e6e"/>
<rect x="866" y="523" width="5" height="36" fill="#6e6e6e"/>
<rect x="867" y="524" width="3" height="34" fill="#ff0000"/>
<rect x="873" y="488" width="1" height="71" fill="#6e6e6e"/>
<rect x="871" y="494" width="5" height="60" fill="#6e6e6e"/>
<rect x="872" y="495" width="3" height="58" fill="#00ff00"/>
<rect x="877" y="475" width="1" height="33" fill="#6e6e6e"/>
<rect x="875" y="495" width="5" height="13" fill="#6e6e6e"/>
<rect x="876" y="496" width="3" height="11" fill="#ff0000"/>
<rect x="881" y="430" width="1" height="76" fill="#6e6e6e"/>
<rect x="879" y="439" width="5" height="66" fill="#6e6e6e"/>
<rect x="880" y="440" width="3" height="64" fill="#00ff00"/>
<rect x="885" y="444" width="1" height="61" fill="#6e6e6e"/>
<rect x="883" y="444" width="5" height="60" fill="#6e6e6e"/>
<rect x="884" y="445" width="3" height="58" fill="#ff0000"/>
<rect x="890" y="498" width="1" height="43" fill="#6e6e6e"/>
<rect x="888" y="504" width="5" height="34" fill="#6e6e6e"/>
<rect x="889" y="505" width="3" height="32" fill="#ff0000"/>
<rect x="894" y="535" width="1" height="40" fill="#6e6e6e"/>
<rect x="892" y="539" width="5" height="36" fill="#6e6e6e"/>
<rect x="893" y="540" width="3" height="34" fill="#ff0000"/>
<rect x="898" y="573" width="1" height="40" fill="#6e6e6e"/>
<rect x="896" y="576" width="5" height="20" fill="#6e6e6e"/>
<rect x="897" y="577" width="3" height="18" fill="#ff0000"/>
<rect x="902" y="592" width="1" height="39" fill="#6e6e6e"/>
<rect x="900" y="593" width="5" height="18" fill="#6e6e6e"/>
<rect x="901" y="594" width="3" height="16" fill="#ff0000"/>
<rect x="906" y="575" width="1" height="31" fill="#6e6e6e"/>
<rect x="904" y="577" width="5" height="29" fill="#6e6e6e"/>
<rect x="905" y="578" width="3" height="27" fill="#00ff00"/>
</g>
<g shape-rendering="crispEdges">
<rect x="1139" y="835" width="4" height="1" fill="#8c8c8c"/>
<rect x="1139" y="806" width="4" height="1" fill="#8c8c8c"/>
<rect x="1139" y="777" width="4" height="1" fill="#8c8c8c"/>
<rect x="1139" y="748" width="4" height="1" fill="#8c8c8c"/>
<rect x="1139" y="719" width="4" height="1" fill="#8c8c8c"/>
<rect x="1139" y="690" width="4" height="1" fill="#8c8c8c"/>
<rect x="1139" y="661" width="4" height="1" fill="#8c8c8c"/>
<rect x="1139" y="633" width="4" height="1" fill="#8c8c8c"/>
<rect x="1139" y="604" width="4" height="1" fill="#8c8c8c"/>
<rect x="1139" y="575" width="4" height="1" fill="#8c8c8c"/>
<rect x="1139" y="546" width="4" height="1" fill="#8c8c8c"/>
<rect x="1139" y="517" width="4" height="1" fill="#8c8c8c"/>
<rect x="1139" y="488" width="4" height="1" fill="#8c8c8c"/>
<rect x="1139" y="460" width="4" height="1" fill="#8c8c8c"/>
<rect x="1139" y="431" width="4" height="1" fill="#8c8c8c"/>
<rect x="1139" y="402" width="4" height="1" fill="#8c8c8c"/>
<rect x="1139" y="373" width="4" height="1" fill="#8c8c8c"/>
<rect x="1139" y="344" width="4" height="1" fill="#8c8c8c"/>
<rect x="1139" y="315" width="4" height="1" fill="#8c8c8c"/>
<rect x="1139" y="287" width="4" height="1" fill="#8c8c8c"/>
<rect x="1139" y="258" width="4" height="1" fill="#8c8c8c"/>
<rect x="1139" y="229" width="4" height="1" fill="#8c8c8c"/>
<rect x="1139" y="200" width="4" height="1" fill="#8c8c8c"/>
<rect x="1139" y="171" width="4" height="1" fill="#8c8c8c"/>
<rect x="1139" y="142" width="4" height="1" fill="#8c8c8c"/>
<rect x="1139" y="114" width="4" height="1" fill="#8c8c8c"/>
<rect x="1139" y="85" width="4" height="1" fill="#8c8c8c"/>
<rect x="1139" y="56" width="4" height="1" fill="#8c8c8c"/>
<rect x="1139" y="27" width="4" height="1" fill="#8c8c8c"/>
<rect x="1139" y="-2" width="4" height="1" fill="#8c8c8c"/>
</g>
<text class="ax" x="1142.8" y="838.5" textLength="44.6" lengthAdjust="spacingAndGlyphs">34440,00</text>
<text class="ax" x="1142.8" y="809.7" textLength="44.6" lengthAdjust="spacingAndGlyphs">34450,00</text>
<text class="ax" x="1142.8" y="780.8" textLength="44.6" lengthAdjust="spacingAndGlyphs">34460,00</text>
<text class="ax" x="1142.8" y="752.0" textLength="44.6" lengthAdjust="spacingAndGlyphs">34470,00</text>
<text class="ax" x="1142.8" y="723.2" textLength="44.6" lengthAdjust="spacingAndGlyphs">34480,00</text>
<text class="ax" x="1142.8" y="694.3" textLength="44.6" lengthAdjust="spacingAndGlyphs">34490,00</text>
<text class="ax" x="1142.8" y="665.5" textLength="44.6" lengthAdjust="spacingAndGlyphs">34500,00</text>
<text class="ax" x="1142.8" y="636.6" textLength="44.6" lengthAdjust="spacingAndGlyphs">34510,00</text>
<text class="ax" x="1142.8" y="607.8" textLength="44.6" lengthAdjust="spacingAndGlyphs">34520,00</text>
<text class="ax" x="1142.8" y="579.0" textLength="44.6" lengthAdjust="spacingAndGlyphs">34530,00</text>
<text class="ax" x="1142.8" y="550.1" textLength="44.6" lengthAdjust="spacingAndGlyphs">34540,00</text>
<text class="ax" x="1142.8" y="521.3" textLength="44.6" lengthAdjust="spacingAndGlyphs">34550,00</text>
<text class="ax" x="1142.8" y="492.4" textLength="44.6" lengthAdjust="spacingAndGlyphs">34560,00</text>
<text class="ax" x="1142.8" y="463.6" textLength="44.6" lengthAdjust="spacingAndGlyphs">34570,00</text>
<text class="ax" x="1142.8" y="434.8" textLength="44.6" lengthAdjust="spacingAndGlyphs">34580,00</text>
<text class="ax" x="1142.8" y="405.9" textLength="44.6" lengthAdjust="spacingAndGlyphs">34590,00</text>
<text class="ax" x="1142.8" y="377.1" textLength="44.6" lengthAdjust="spacingAndGlyphs">34600,00</text>
<text class="ax" x="1142.8" y="348.2" textLength="44.6" lengthAdjust="spacingAndGlyphs">34610,00</text>
<text class="ax" x="1142.8" y="319.4" textLength="44.6" lengthAdjust="spacingAndGlyphs">34620,00</text>
<text class="ax" x="1142.8" y="290.6" textLength="44.6" lengthAdjust="spacingAndGlyphs">34630,00</text>
<text class="ax" x="1142.8" y="261.7" textLength="44.6" lengthAdjust="spacingAndGlyphs">34640,00</text>
<text class="ax" x="1142.8" y="232.9" textLength="44.6" lengthAdjust="spacingAndGlyphs">34650,00</text>
<text class="ax" x="1142.8" y="204.0" textLength="44.6" lengthAdjust="spacingAndGlyphs">34660,00</text>
<text class="ax" x="1142.8" y="175.2" textLength="44.6" lengthAdjust="spacingAndGlyphs">34670,00</text>
<text class="ax" x="1142.8" y="146.4" textLength="44.6" lengthAdjust="spacingAndGlyphs">34680,00</text>
<text class="ax" x="1142.8" y="117.5" textLength="44.6" lengthAdjust="spacingAndGlyphs">34690,00</text>
<text class="ax" x="1142.8" y="88.7" textLength="44.6" lengthAdjust="spacingAndGlyphs">34700,00</text>
<text class="ax" x="1142.8" y="59.8" textLength="44.6" lengthAdjust="spacingAndGlyphs">34710,00</text>
<text class="ax" x="1142.8" y="31.0" textLength="44.6" lengthAdjust="spacingAndGlyphs">34720,00</text>
<text class="ax" x="1142.8" y="2.2" textLength="44.6" lengthAdjust="spacingAndGlyphs">34730,00</text>
<path d="M1139,244 L1145,238 L1193,238 L1193,250 L1145,250 Z" fill="#b4b4b4"/>
<text class="ax" x="1145" y="248" fill="#000" style="fill:#000" textLength="45" lengthAdjust="spacingAndGlyphs">34644,78</text>
<path d="M1139,577 L1145,571 L1193,571 L1193,583 L1145,583 Z" fill="#00ff00"/>
<text class="ax" x="1145" y="581" fill="#000" style="fill:#000" textLength="45" lengthAdjust="spacingAndGlyphs">34529,18</text>
<g shape-rendering="crispEdges">
<rect x="60" y="842" width="1" height="4" fill="#8c8c8c"/>
<rect x="186" y="842" width="1" height="4" fill="#8c8c8c"/>
<rect x="312" y="842" width="1" height="4" fill="#8c8c8c"/>
<rect x="439" y="842" width="1" height="4" fill="#8c8c8c"/>
<rect x="565" y="842" width="1" height="4" fill="#8c8c8c"/>
<rect x="692" y="842" width="1" height="4" fill="#8c8c8c"/>
<rect x="818" y="842" width="1" height="4" fill="#8c8c8c"/>
</g>
<text class="ax" x="47" y="858" textLength="27" lengthAdjust="spacingAndGlyphs">18:30</text>
<text class="ax" x="173" y="858" textLength="27" lengthAdjust="spacingAndGlyphs">19:00</text>
<text class="ax" x="299" y="858" textLength="27" lengthAdjust="spacingAndGlyphs">19:30</text>
<text class="ax" x="426" y="858" textLength="27" lengthAdjust="spacingAndGlyphs">20:00</text>
<text class="ax" x="552" y="858" textLength="27" lengthAdjust="spacingAndGlyphs">20:30</text>
<text class="ax" x="805" y="858" textLength="27" lengthAdjust="spacingAndGlyphs">21:30</text>
<rect x="627" y="846" width="88" height="15" fill="#a8a8a8"/>
<text class="ax" x="628.2" y="858" style="fill:#000" textLength="82.8" lengthAdjust="spacingAndGlyphs">20:55 14.09.2021</text>
<text x="1" y="858" style="font-size:12px;font-weight:bold;fill:#8c8c8c" textLength="20" lengthAdjust="spacingAndGlyphs">Dyn</text>
<defs><linearGradient id="bg" x1="0" y1="0" x2="0" y2="1"><stop offset="0" stop-color="#f6f6f6"/><stop offset="1" stop-color="#d8d8d8"/></linearGradient></defs>
<rect x="24.5" y="843.5" width="15" height="15" rx="2" fill="url(#bg)" stroke="#b4b4b4"/>
<rect x="27.5" y="851" width="4.6" height="5.6" fill="#8a8a8a"/><path d="M28.6,851 v-1.6 a2.2,2.4 0 0 1 4.4,0 v1" fill="none" stroke="#8a8a8a" stroke-width="1.5"/>
<circle cx="34.4" cy="853.6" r="3.1" fill="#9a9a9a" stroke="#808080" stroke-width="0.9"/><path d="M34.4,851.9 v1.8 h1.5" fill="none" stroke="#e0e0e0" stroke-width="0.8"/>
<text x="3" y="836" style="font-size:9.5px;fill:#3c3c3c" textLength="65" lengthAdjust="spacingAndGlyphs">© eSignal, 2021</text>
<text x="4.0" y="12" style="font-size:11px;fill:#000" textLength="164.8" lengthAdjust="spacingAndGlyphs">* $INDU, DOW JONES INDUSTRIAL</text>
<text x="170.2" y="12" style="font-size:11px;fill:#000" textLength="53.2" lengthAdjust="spacingAndGlyphs">AVERAGE,</text>
<text x="227.6" y="12" style="font-size:11px;fill:#000" textLength="7.8" lengthAdjust="spacingAndGlyphs">1,</text>
<text x="239.6" y="12" style="font-size:11px;fill:#000" textLength="56.8" lengthAdjust="spacingAndGlyphs">15:30-22:00</text>
<text x="301.2" y="12" style="font-size:11px;fill:#000" textLength="47.4" lengthAdjust="spacingAndGlyphs">(Dynamic)</text>
<text class="b" x="510.4" y="60.6" textLength="145.0" lengthAdjust="spacingAndGlyphs" style="font-size:30px;fill:#000;stroke:#000;stroke-width:1.0px;stroke-linejoin:round">Gesamt:</text>
<text class="b" x="667.2" y="60.6" textLength="104.4" lengthAdjust="spacingAndGlyphs" style="font-size:30px;fill:#000;stroke:#000;stroke-width:1.0px;stroke-linejoin:round">-0,998</text>
<text class="b" x="784.1" y="60.6" textLength="24.0" lengthAdjust="spacingAndGlyphs" style="font-size:30px;fill:#000;stroke:#000;stroke-width:1.0px;stroke-linejoin:round">R</text>
<text class="b" x="818.9" y="60.6" textLength="11.3" lengthAdjust="spacingAndGlyphs" style="font-size:30px;fill:#000;stroke:#000;stroke-width:1.0px;stroke-linejoin:round">/</text>
<text class="b" x="839.8" y="60.6" textLength="103.6" lengthAdjust="spacingAndGlyphs" style="font-size:30px;fill:#000;stroke:#000;stroke-width:1.0px;stroke-linejoin:round">-68,00</text>
<text class="b" x="958.0" y="60.6" textLength="118.6" lengthAdjust="spacingAndGlyphs" style="font-size:30px;fill:#000;stroke:#000;stroke-width:1.0px;stroke-linejoin:round">Punkte</text>
<text class="b" x="245.0" y="64.0" textLength="47.4" lengthAdjust="spacingAndGlyphs" style="font-size:12.9px;fill:#000;stroke:#000;stroke-width:0.65px;stroke-linejoin:round">+0,672</text>
<text class="b" x="297.7" y="64.0" textLength="9.0" lengthAdjust="spacingAndGlyphs" style="font-size:12.9px;fill:#000;stroke:#000;stroke-width:0.65px;stroke-linejoin:round">R</text>
<text class="b" x="310.8" y="64.0" textLength="3.7" lengthAdjust="spacingAndGlyphs" style="font-size:12.9px;fill:#000;stroke:#000;stroke-width:0.65px;stroke-linejoin:round">/</text>
<text class="b" x="319.8" y="64.0" textLength="25.6" lengthAdjust="spacingAndGlyphs" style="font-size:12.9px;fill:#000;stroke:#000;stroke-width:0.65px;stroke-linejoin:round">+43</text>
<text class="b" x="351.1" y="64.0" textLength="49.6" lengthAdjust="spacingAndGlyphs" style="font-size:12.9px;fill:#000;stroke:#000;stroke-width:0.65px;stroke-linejoin:round">Punkte</text>
<text class="b" x="20.3" y="272.0" textLength="35.0" lengthAdjust="spacingAndGlyphs" style="font-size:12.9px;fill:#000;stroke:#000;stroke-width:0.65px;stroke-linejoin:round">-0,67</text>
<text class="b" x="59.8" y="272.0" textLength="9.3" lengthAdjust="spacingAndGlyphs" style="font-size:12.9px;fill:#000;stroke:#000;stroke-width:0.65px;stroke-linejoin:round">R</text>
<text class="b" x="73.4" y="272.0" textLength="3.7" lengthAdjust="spacingAndGlyphs" style="font-size:12.9px;fill:#000;stroke:#000;stroke-width:0.65px;stroke-linejoin:round">/</text>
<text class="b" x="80.9" y="272.0" textLength="21.1" lengthAdjust="spacingAndGlyphs" style="font-size:12.9px;fill:#000;stroke:#000;stroke-width:0.65px;stroke-linejoin:round">-67</text>
<text class="b" x="107.8" y="272.0" textLength="50.1" lengthAdjust="spacingAndGlyphs" style="font-size:12.9px;fill:#000;stroke:#000;stroke-width:0.65px;stroke-linejoin:round">Punkte</text>
<text class="b" x="465.2" y="550.2" textLength="19.1" lengthAdjust="spacingAndGlyphs" style="font-size:12.9px;fill:#000;stroke:#000;stroke-width:0.65px;stroke-linejoin:round">0R</text>
<text class="b" x="921.2" y="651.1" textLength="11.3" lengthAdjust="spacingAndGlyphs" style="font-size:12.9px;fill:#000;stroke:#000;stroke-width:0.65px;stroke-linejoin:round">-1</text>
<text class="b" x="938.5" y="651.1" textLength="9.6" lengthAdjust="spacingAndGlyphs" style="font-size:12.9px;fill:#000;stroke:#000;stroke-width:0.65px;stroke-linejoin:round">R</text>
<text class="b" x="952.4" y="651.1" textLength="3.7" lengthAdjust="spacingAndGlyphs" style="font-size:12.9px;fill:#000;stroke:#000;stroke-width:0.65px;stroke-linejoin:round">/</text>
<text class="b" x="960.2" y="651.1" textLength="21.5" lengthAdjust="spacingAndGlyphs" style="font-size:12.9px;fill:#000;stroke:#000;stroke-width:0.65px;stroke-linejoin:round">-44</text>
<text class="b" x="986.7" y="651.1" textLength="50.1" lengthAdjust="spacingAndGlyphs" style="font-size:12.9px;fill:#000;stroke:#000;stroke-width:0.65px;stroke-linejoin:round">Punkte</text>
<text class="b" x="566.0" y="668.7" textLength="59.0" lengthAdjust="spacingAndGlyphs" style="font-size:19.3px;fill:#000;stroke:#000;stroke-width:0.9px;stroke-linejoin:round">Black</text>
<text class="b" x="631.8" y="668.7" textLength="61.7" lengthAdjust="spacingAndGlyphs" style="font-size:19.3px;fill:#000;stroke:#000;stroke-width:0.9px;stroke-linejoin:round">Green</text>
<text class="b" x="701.2" y="668.7" textLength="72.4" lengthAdjust="spacingAndGlyphs" style="font-size:19.3px;fill:#000;stroke:#000;stroke-width:0.9px;stroke-linejoin:round">Rocket</text>
<text class="b" x="781.7" y="668.7" textLength="81.8" lengthAdjust="spacingAndGlyphs" style="font-size:19.3px;fill:#000;stroke:#000;stroke-width:0.9px;stroke-linejoin:round">Deluxe1</text>
<text class="b" x="643.8" y="695.6" textLength="23.5" lengthAdjust="spacingAndGlyphs" style="font-size:19.3px;fill:#000;stroke:#000;stroke-width:0.9px;stroke-linejoin:round">im</text>
<text class="b" x="674.7" y="695.6" textLength="33.9" lengthAdjust="spacingAndGlyphs" style="font-size:19.3px;fill:#000;stroke:#000;stroke-width:0.9px;stroke-linejoin:round">5er</text>
<text class="b" x="258.7" y="96.0" textLength="65.6" lengthAdjust="spacingAndGlyphs" style="font-size:14.5px;fill:#ff0000;stroke:#ff0000;stroke-width:0.65px;stroke-linejoin:round">Einstieg</text>
<text class="b" x="330.6" y="96.0" textLength="48.9" lengthAdjust="spacingAndGlyphs" style="font-size:14.5px;fill:#ff0000;stroke:#ff0000;stroke-width:0.65px;stroke-linejoin:round">34596</text>
<text class="b" x="258.4" y="113.6" textLength="47.0" lengthAdjust="spacingAndGlyphs" style="font-size:14.5px;fill:#ff0000;stroke:#ff0000;stroke-width:0.65px;stroke-linejoin:round">Stopp</text>
<text class="b" x="311.5" y="113.6" textLength="48.9" lengthAdjust="spacingAndGlyphs" style="font-size:14.5px;fill:#ff0000;stroke:#ff0000;stroke-width:0.65px;stroke-linejoin:round">34660</text>
<text class="b" x="256.0" y="127.4" textLength="71.1" lengthAdjust="spacingAndGlyphs" style="font-size:14.5px;fill:#ff0000;stroke:#ff0000;stroke-width:0.65px;stroke-linejoin:round">Ausstieg</text>
<text class="b" x="333.3" y="127.4" textLength="48.9" lengthAdjust="spacingAndGlyphs" style="font-size:14.5px;fill:#ff0000;stroke:#ff0000;stroke-width:0.65px;stroke-linejoin:round">34553</text>
<text class="b" x="467.5" y="160.8" textLength="47.0" lengthAdjust="spacingAndGlyphs" style="font-size:14.5px;fill:#ff0000;stroke:#ff0000;stroke-width:0.65px;stroke-linejoin:round">Stopp</text>
<text class="b" x="520.6" y="160.8" textLength="48.9" lengthAdjust="spacingAndGlyphs" style="font-size:14.5px;fill:#ff0000;stroke:#ff0000;stroke-width:0.65px;stroke-linejoin:round">34660</text>
<text class="b" x="391.7" y="388.9" textLength="65.6" lengthAdjust="spacingAndGlyphs" style="font-size:14.5px;fill:#ff0000;stroke:#ff0000;stroke-width:0.65px;stroke-linejoin:round">Einstieg</text>
<text class="b" x="463.6" y="388.9" textLength="48.9" lengthAdjust="spacingAndGlyphs" style="font-size:14.5px;fill:#ff0000;stroke:#ff0000;stroke-width:0.65px;stroke-linejoin:round">34596</text>
<text class="b" x="448.2" y="524.8" textLength="71.1" lengthAdjust="spacingAndGlyphs" style="font-size:14.5px;fill:#ff0000;stroke:#ff0000;stroke-width:0.65px;stroke-linejoin:round">Ausstieg</text>
<text class="b" x="525.5" y="524.8" textLength="48.9" lengthAdjust="spacingAndGlyphs" style="font-size:14.5px;fill:#ff0000;stroke:#ff0000;stroke-width:0.65px;stroke-linejoin:round">34553</text>
<text class="b" x="203.3" y="246.8" textLength="47.0" lengthAdjust="spacingAndGlyphs" style="font-size:14.5px;fill:#009900;stroke:#009900;stroke-width:0.65px;stroke-linejoin:round">Stopp</text>
<text class="b" x="256.9" y="246.8" textLength="29.6" lengthAdjust="spacingAndGlyphs" style="font-size:14.5px;fill:#009900;stroke:#009900;stroke-width:0.65px;stroke-linejoin:round">Buy</text>
<text class="b" x="292.5" y="246.8" textLength="48.9" lengthAdjust="spacingAndGlyphs" style="font-size:14.5px;fill:#009900;stroke:#009900;stroke-width:0.65px;stroke-linejoin:round">34646</text>
<text class="b" x="37.6" y="308.7" textLength="47.0" lengthAdjust="spacingAndGlyphs" style="font-size:14.5px;fill:#009900;stroke:#009900;stroke-width:0.65px;stroke-linejoin:round">Stopp</text>
<text class="b" x="91.2" y="308.7" textLength="29.6" lengthAdjust="spacingAndGlyphs" style="font-size:14.5px;fill:#009900;stroke:#009900;stroke-width:0.65px;stroke-linejoin:round">Buy</text>
<text class="b" x="126.8" y="308.7" textLength="48.9" lengthAdjust="spacingAndGlyphs" style="font-size:14.5px;fill:#009900;stroke:#009900;stroke-width:0.65px;stroke-linejoin:round">34646</text>
<text class="b" x="37.6" y="323.3" textLength="47.0" lengthAdjust="spacingAndGlyphs" style="font-size:14.5px;fill:#009900;stroke:#009900;stroke-width:0.65px;stroke-linejoin:round">Stopp</text>
<text class="b" x="90.7" y="323.3" textLength="48.9" lengthAdjust="spacingAndGlyphs" style="font-size:14.5px;fill:#009900;stroke:#009900;stroke-width:0.65px;stroke-linejoin:round">34546</text>
<text class="b" x="34.1" y="339.3" textLength="71.1" lengthAdjust="spacingAndGlyphs" style="font-size:14.5px;fill:#009900;stroke:#009900;stroke-width:0.65px;stroke-linejoin:round">Ausstieg</text>
<text class="b" x="111.4" y="339.3" textLength="48.9" lengthAdjust="spacingAndGlyphs" style="font-size:14.5px;fill:#009900;stroke:#009900;stroke-width:0.65px;stroke-linejoin:round">34579</text>
<text class="b" x="279.4" y="435.5" textLength="71.1" lengthAdjust="spacingAndGlyphs" style="font-size:14.5px;fill:#009900;stroke:#009900;stroke-width:0.65px;stroke-linejoin:round">Ausstieg</text>
<text class="b" x="356.7" y="435.5" textLength="48.9" lengthAdjust="spacingAndGlyphs" style="font-size:14.5px;fill:#009900;stroke:#009900;stroke-width:0.65px;stroke-linejoin:round">34579</text>
<text class="b" x="292.6" y="450.1" textLength="47.0" lengthAdjust="spacingAndGlyphs" style="font-size:14.5px;fill:#009900;stroke:#009900;stroke-width:0.65px;stroke-linejoin:round">Stopp</text>
<text class="b" x="345.7" y="450.1" textLength="48.9" lengthAdjust="spacingAndGlyphs" style="font-size:14.5px;fill:#009900;stroke:#009900;stroke-width:0.65px;stroke-linejoin:round">34574</text>
<text class="b" x="292.6" y="464.4" textLength="47.0" lengthAdjust="spacingAndGlyphs" style="font-size:14.5px;fill:#009900;stroke:#009900;stroke-width:0.65px;stroke-linejoin:round">Stopp</text>
<text class="b" x="345.7" y="464.4" textLength="48.9" lengthAdjust="spacingAndGlyphs" style="font-size:14.5px;fill:#009900;stroke:#009900;stroke-width:0.65px;stroke-linejoin:round">34573</text>
<text class="b" x="120.5" y="505.6" textLength="47.0" lengthAdjust="spacingAndGlyphs" style="font-size:14.5px;fill:#009900;stroke:#009900;stroke-width:0.65px;stroke-linejoin:round">Stopp</text>
<text class="b" x="173.6" y="505.6" textLength="48.9" lengthAdjust="spacingAndGlyphs" style="font-size:14.5px;fill:#009900;stroke:#009900;stroke-width:0.65px;stroke-linejoin:round">34554</text>
<text class="b" x="129.5" y="540.0" textLength="47.0" lengthAdjust="spacingAndGlyphs" style="font-size:14.5px;fill:#009900;stroke:#009900;stroke-width:0.65px;stroke-linejoin:round">Stopp</text>
<text class="b" x="182.6" y="540.0" textLength="48.9" lengthAdjust="spacingAndGlyphs" style="font-size:14.5px;fill:#009900;stroke:#009900;stroke-width:0.65px;stroke-linejoin:round">34546</text>
<text class="b" x="902.4" y="469.5" textLength="47.0" lengthAdjust="spacingAndGlyphs" style="font-size:14.5px;fill:#009900;stroke:#009900;stroke-width:0.65px;stroke-linejoin:round">Stopp</text>
<text class="b" x="956.0" y="469.5" textLength="29.6" lengthAdjust="spacingAndGlyphs" style="font-size:14.5px;fill:#009900;stroke:#009900;stroke-width:0.65px;stroke-linejoin:round">Buy</text>
<text class="b" x="991.6" y="469.5" textLength="48.9" lengthAdjust="spacingAndGlyphs" style="font-size:14.5px;fill:#009900;stroke:#009900;stroke-width:0.65px;stroke-linejoin:round">34565</text>
<text class="b" x="912.0" y="606.7" textLength="47.0" lengthAdjust="spacingAndGlyphs" style="font-size:14.5px;fill:#009900;stroke:#009900;stroke-width:0.65px;stroke-linejoin:round">Stopp</text>
<text class="b" x="965.1" y="606.7" textLength="48.9" lengthAdjust="spacingAndGlyphs" style="font-size:14.5px;fill:#009900;stroke:#009900;stroke-width:0.65px;stroke-linejoin:round">34521</text>
<text class="b" x="889.7" y="680.6" textLength="47.0" lengthAdjust="spacingAndGlyphs" style="font-size:14.5px;fill:#009900;stroke:#009900;stroke-width:0.65px;stroke-linejoin:round">Stopp</text>
<text class="b" x="943.3" y="680.6" textLength="29.6" lengthAdjust="spacingAndGlyphs" style="font-size:14.5px;fill:#009900;stroke:#009900;stroke-width:0.65px;stroke-linejoin:round">Buy</text>
<text class="b" x="978.9" y="680.6" textLength="48.9" lengthAdjust="spacingAndGlyphs" style="font-size:14.5px;fill:#009900;stroke:#009900;stroke-width:0.65px;stroke-linejoin:round">34565</text>
<text class="b" x="891.5" y="701.6" textLength="47.0" lengthAdjust="spacingAndGlyphs" style="font-size:14.5px;fill:#009900;stroke:#009900;stroke-width:0.65px;stroke-linejoin:round">Stopp</text>
<text class="b" x="944.6" y="701.6" textLength="48.9" lengthAdjust="spacingAndGlyphs" style="font-size:14.5px;fill:#009900;stroke:#009900;stroke-width:0.65px;stroke-linejoin:round">34521</text>
<text class="b" x="123.6" y="521.7" textLength="66.4" lengthAdjust="spacingAndGlyphs" style="font-size:14.5px;fill:#ff00ff;stroke:#ff00ff;stroke-width:0.65px;stroke-linejoin:round">Grabber</text>
<text class="b" x="196.3" y="521.7" textLength="55.2" lengthAdjust="spacingAndGlyphs" style="font-size:14.5px;fill:#ff00ff;stroke:#ff00ff;stroke-width:0.65px;stroke-linejoin:round">Deluxe</text>
<text class="b" x="257.7" y="521.7" textLength="18.3" lengthAdjust="spacingAndGlyphs" style="font-size:14.5px;fill:#ff00ff;stroke:#ff00ff;stroke-width:0.65px;stroke-linejoin:round">by</text>
<text class="b" x="282.3" y="521.7" textLength="62.8" lengthAdjust="spacingAndGlyphs" style="font-size:14.5px;fill:#ff00ff;stroke:#ff00ff;stroke-width:0.65px;stroke-linejoin:round">Blacky1</text>
<text class="b" x="395.8" y="583.9" textLength="47.0" lengthAdjust="spacingAndGlyphs" style="font-size:14.5px;fill:#0000ff;stroke:#0000ff;stroke-width:0.65px;stroke-linejoin:round">Stopp</text>
<text class="b" x="449.4" y="583.9" textLength="29.6" lengthAdjust="spacingAndGlyphs" style="font-size:14.5px;fill:#0000ff;stroke:#0000ff;stroke-width:0.65px;stroke-linejoin:round">Buy</text>
<text class="b" x="485.0" y="583.9" textLength="48.9" lengthAdjust="spacingAndGlyphs" style="font-size:14.5px;fill:#0000ff;stroke:#0000ff;stroke-width:0.65px;stroke-linejoin:round">34556</text>
<text class="b" x="432.9" y="600.6" textLength="47.0" lengthAdjust="spacingAndGlyphs" style="font-size:14.5px;fill:#0000ff;stroke:#0000ff;stroke-width:0.65px;stroke-linejoin:round">Stopp</text>
<text class="b" x="486.0" y="600.6" textLength="48.9" lengthAdjust="spacingAndGlyphs" style="font-size:14.5px;fill:#0000ff;stroke:#0000ff;stroke-width:0.65px;stroke-linejoin:round">34511</text>
<text x="279.2" y="78.6" textLength="44.0" lengthAdjust="spacingAndGlyphs" style="font-size:12px;fill:#000">2. Trade</text>
<text x="265.8" y="143.8" textLength="80.2" lengthAdjust="spacingAndGlyphs" style="font-size:12px;fill:#000">1R=-64 Punkte</text>
<text x="265.8" y="158.8" textLength="55.9" lengthAdjust="spacingAndGlyphs" style="font-size:12px;fill:#000">1R: 34532</text>
<text x="265.8" y="173.7" textLength="55.9" lengthAdjust="spacingAndGlyphs" style="font-size:12px;fill:#000">2R: 34468</text>
<text x="265.8" y="188.7" textLength="55.9" lengthAdjust="spacingAndGlyphs" style="font-size:12px;fill:#000">3R: 34404</text>
<text x="265.8" y="203.6" textLength="55.9" lengthAdjust="spacingAndGlyphs" style="font-size:12px;fill:#000">4R: 34340</text>
<text x="70.4" y="292.7" textLength="43.0" lengthAdjust="spacingAndGlyphs" style="font-size:12px;fill:#000">1. Trade</text>
<text x="42.0" y="359.0" textLength="85.0" lengthAdjust="spacingAndGlyphs" style="font-size:12px;fill:#000">1R=100 Punkte</text>
<text x="42.0" y="374.0" textLength="55.9" lengthAdjust="spacingAndGlyphs" style="font-size:12px;fill:#000">1R: 34746</text>
<text x="42.0" y="389.0" textLength="55.9" lengthAdjust="spacingAndGlyphs" style="font-size:12px;fill:#000">2R: 34846</text>
<text x="42.0" y="404.0" textLength="55.9" lengthAdjust="spacingAndGlyphs" style="font-size:12px;fill:#000">3R: 34946</text>
<text x="42.0" y="419.0" textLength="55.9" lengthAdjust="spacingAndGlyphs" style="font-size:12px;fill:#000">4R: 35046</text>
<text x="452.2" y="569.0" textLength="44.1" lengthAdjust="spacingAndGlyphs" style="font-size:12px;fill:#000">3. Trade</text>
<text x="452.6" y="618.7" textLength="76.5" lengthAdjust="spacingAndGlyphs" style="font-size:12px;fill:#000">1R=45 Punkte</text>
<text x="452.6" y="633.7" textLength="55.6" lengthAdjust="spacingAndGlyphs" style="font-size:12px;fill:#000">1R: 34601</text>
<text x="452.6" y="648.6" textLength="55.6" lengthAdjust="spacingAndGlyphs" style="font-size:12px;fill:#000">2R: 34646</text>
<text x="452.6" y="663.6" textLength="55.6" lengthAdjust="spacingAndGlyphs" style="font-size:12px;fill:#000">3R: 34691</text>
<text x="452.6" y="678.5" textLength="55.6" lengthAdjust="spacingAndGlyphs" style="font-size:12px;fill:#000">4R: 34736</text>
<text x="926.4" y="663.8" textLength="44.0" lengthAdjust="spacingAndGlyphs" style="font-size:12px;fill:#000">4. Trade</text>
<text x="893.9" y="722.5" textLength="76.5" lengthAdjust="spacingAndGlyphs" style="font-size:12px;fill:#000">1R=44 Punkte</text>
<text x="893.9" y="737.5" textLength="55.7" lengthAdjust="spacingAndGlyphs" style="font-size:12px;fill:#000">1R: 34609</text>
<text x="893.9" y="752.6" textLength="55.7" lengthAdjust="spacingAndGlyphs" style="font-size:12px;fill:#000">2R: 34653</text>
<text x="893.9" y="767.6" textLength="55.7" lengthAdjust="spacingAndGlyphs" style="font-size:12px;fill:#000">3R: 34697</text>
<text x="893.9" y="782.6" textLength="55.7" lengthAdjust="spacingAndGlyphs" style="font-size:12px;fill:#000">4R: 34741</text>
<text x="169.3" y="230.6" textLength="50.7" lengthAdjust="spacingAndGlyphs" style="font-size:12px;fill:#000">34647,07</text>
<text x="279.8" y="259.3" textLength="33.6" lengthAdjust="spacingAndGlyphs" style="font-size:12px;fill:#000">34639</text>
<text x="304.5" y="345.3" textLength="33.9" lengthAdjust="spacingAndGlyphs" style="font-size:12px;fill:#000">34613</text>
<text x="346.4" y="181.7" textLength="34.0" lengthAdjust="spacingAndGlyphs" style="font-size:12px;fill:#000">34665</text>
<text x="443.4" y="211.9" textLength="34.2" lengthAdjust="spacingAndGlyphs" style="font-size:12px;fill:#000">34655</text>
<text x="243.6" y="463.5" textLength="33.9" lengthAdjust="spacingAndGlyphs" style="font-size:12px;fill:#000">34573</text>
<text x="685.6" y="397.8" textLength="33.9" lengthAdjust="spacingAndGlyphs" style="font-size:12px;fill:#000">34589</text>
<text x="796.2" y="612.8" textLength="34.0" lengthAdjust="spacingAndGlyphs" style="font-size:12px;fill:#000">34521</text>
<text x="622.2" y="644.7" textLength="33.1" lengthAdjust="spacingAndGlyphs" style="font-size:12px;fill:#000">34511</text>
<text x="920.2" y="401.8" textLength="37.6" lengthAdjust="spacingAndGlyphs" style="font-size:9.5px;fill:#808080">34589,05</text>
<text x="920.2" y="581.7" textLength="69.6" lengthAdjust="spacingAndGlyphs" style="font-size:9.5px;fill:#1a9a1a">0.786 (34526,78)</text>
<text x="920.2" y="630.7" textLength="37.8" lengthAdjust="spacingAndGlyphs" style="font-size:9.5px;fill:#808080">34509,83</text>
</svg></body></html>
